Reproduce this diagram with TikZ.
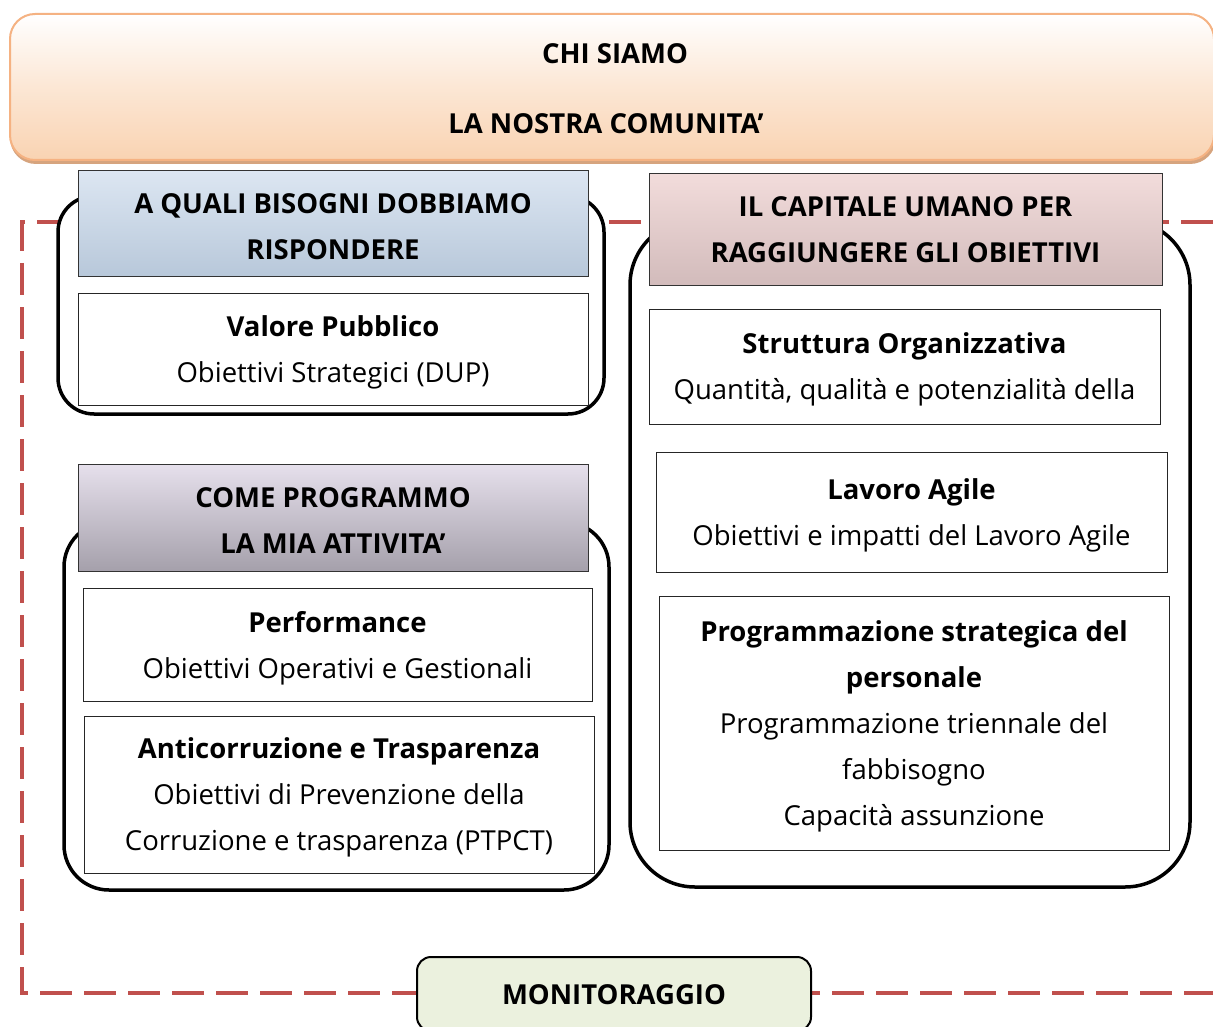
\documentclass[tikz,border=0pt]{standalone}
\usepackage{fontspec}
\setmainfont{Open Sans}
\definecolor{peach}{HTML}{F9D3B2}
\definecolor{peachline}{HTML}{F5B282}
\definecolor{peachshadow}{HTML}{D6A47E}
\definecolor{bluetop}{HTML}{DCE6F2}
\definecolor{bluebot}{HTML}{B8C8DA}
\definecolor{lavtop}{HTML}{E6E0EC}
\definecolor{lavbot}{HTML}{A5A0AB}
\definecolor{pinktop}{HTML}{F2DCDB}
\definecolor{pinkbot}{HTML}{D2BBBB}
\definecolor{greenfill}{HTML}{EBF1DE}
\definecolor{dashred}{HTML}{C0504D}
\begin{document}
\begin{tikzpicture}[x=1pt,y=-1pt,
  txt/.style={font=\fontsize{27.5}{46}\selectfont, align=center, text depth=0pt},
  group/.style={draw=black, line width=3.5pt, fill=white, inner sep=0pt},
  header/.style={draw=black!80, line width=1pt, inner sep=0pt, txt, font=\fontsize{27.5}{46}\selectfont\bfseries},
  whitebox/.style={draw=black!85, line width=1pt, fill=white, inner sep=0pt, txt},
  dashline/.style={draw=dashred, line width=4pt, dash pattern=on 32pt off 12pt}
]
\useasboundingbox (0,0) rectangle (1213,1027);
\fill[white] (0,0) rectangle (1213,1027);

% dashed frame
\coordinate (tr) at (1213,222);
\coordinate (tl) at (22,222);
\coordinate (bl) at (22,993);
\coordinate (br) at (1213,993);
\draw[dashline] (tr) -- (tl) -- (bl) -- (br);

% top banner
\node[fill=peachshadow, rounded corners=26pt, minimum width=1206pt, minimum height=146pt, inner sep=0pt] (bannershadow) at (613,91) {};
\node[draw=peachline, line width=2pt, rounded corners=25pt, top color=white, bottom color=peach, middle color=white!45!peach, minimum width=1204pt, minimum height=146pt, inner sep=0pt] (banner) at (612,87) {};
\node[txt, font=\fontsize{27.5}{46}\selectfont\bfseries] (chi) at (615,54) {CHI SIAMO};
\node[txt, font=\fontsize{27.5}{46}\selectfont\bfseries] (com) at (606,124) {LA NOSTRA COMUNITA’};

% group frames
\node[group, rounded corners=36pt, minimum width=546pt, minimum height=218pt] (g1) at (331,305) {};
\node[group, rounded corners=45pt, minimum width=545pt, minimum height=368pt] (g2) at (336.5,706) {};
\node[group, rounded corners=65pt, minimum width=560pt, minimum height=667pt] (g3) at (910,553.5) {};

% headers
\node[header, top color=bluetop, bottom color=bluebot, minimum width=510pt, minimum height=105pt] (h1) at (333,223.5) {};
\node[header, top color=lavtop, bottom color=lavbot, minimum width=510pt, minimum height=107pt] (h2) at (333,517.5) {};
\node[header, top color=pinktop, bottom color=pinkbot, minimum width=513pt, minimum height=111pt] (h3) at (905.5,229.5) {IL CAPITALE UMANO PER\\RAGGIUNGERE GLI OBIETTIVI};
\node[txt, font=\fontsize{27.5}{46}\selectfont\bfseries] (h1t) at (333,226.5) {A QUALI BISOGNI DOBBIAMO\\RISPONDERE};
\node[txt, font=\fontsize{27.5}{46}\selectfont\bfseries] (h2t) at (333,520.5) {COME PROGRAMMO\\LA MIA ATTIVITA’};

% white boxes
\node[whitebox, minimum width=510pt, minimum height=112pt] (b1) at (333,349) {\textbf{Valore Pubblico}\\Obiettivi Strategici (DUP)};
\node[whitebox, minimum width=509pt, minimum height=113pt] (b2) at (337.5,644.5) {\textbf{Performance}\\Obiettivi Operativi e Gestionali};
\node[whitebox, minimum width=510pt, minimum height=157pt] (b3) at (339,794.5) {\textbf{Anticorruzione e Trasparenza}\\Obiettivi di Prevenzione della\\Corruzione e trasparenza (PTPCT)};
\node[whitebox, minimum width=511pt, minimum height=115pt] (b4) at (904.5,366.5) {\textbf{Struttura Organizzativa}\\Quantità, qualità e potenzialità della};
\node[whitebox, minimum width=511pt, minimum height=120pt] (b5) at (911.5,512) {\textbf{Lavoro Agile}\\Obiettivi e impatti del Lavoro Agile};
\node[whitebox, minimum width=510pt, minimum height=254pt] (b6) at (914,723) {\textbf{Programmazione strategica del}\\\textbf{personale}\\Programmazione triennale del\\fabbisogno\\Capacità assunzione};

% monitoraggio
\node[draw=black, line width=2pt, fill=greenfill, rounded corners=14pt, minimum width=394pt, minimum height=74pt, inner sep=0pt] (mon) at (614,994) {};
\node[font=\fontsize{27.5}{46}\selectfont\bfseries, text depth=0pt] (montxt) at (614,995) {MONITORAGGIO};
\end{tikzpicture}
\end{document}
